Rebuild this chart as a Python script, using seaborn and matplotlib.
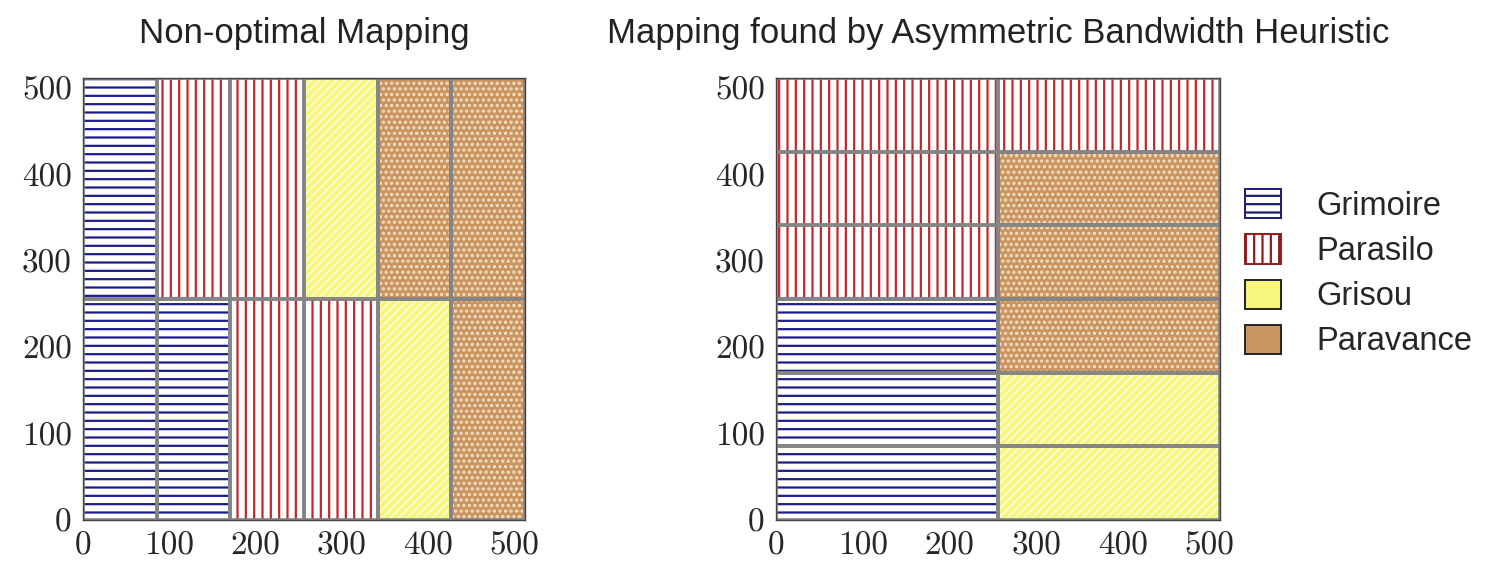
import matplotlib
matplotlib.use("Agg")
import matplotlib.pyplot as plt
import matplotlib.patches as mpatches
import seaborn as sns

sns.set_style("white")
plt.rcParams["hatch.linewidth"] = 1.6

nodes = ["Grimoire", "Parasilo", "Grisou", "Paravance"]
face_colors = ["#ffffff", "#ffffff", "#f6f67c", "#c99460"]
hatch_colors = ["#1c1c8c", "#c0282c", "#fbfbc8", "#f3dfc2"]
hatches = ["--", "||", "////", "..."]

# block grid of a 512 x 512 domain, rows listed bottom to top
non_optimal_rows = [
    ["Grimoire", "Grimoire", "Parasilo", "Parasilo", "Grisou", "Paravance"],
    ["Grimoire", "Parasilo", "Parasilo", "Grisou", "Paravance", "Paravance"],
]
heuristic_rows = [
    ["Grimoire", "Grisou"],
    ["Grimoire", "Grisou"],
    ["Grimoire", "Paravance"],
    ["Parasilo", "Paravance"],
    ["Parasilo", "Paravance"],
    ["Parasilo", "Parasilo"],
]
domain = 512
ticks = [0, 100, 200, 300, 400, 500]


def draw_mapping(ax, rows, title):
    n_rows = len(rows)
    n_cols = len(rows[0])
    w = domain / n_cols
    h = domain / n_rows
    all_x, all_y = [], []
    for i, node in enumerate(nodes):
        xs, ys = [], []
        for r, row in enumerate(rows):
            for c, name in enumerate(row):
                if name == node:
                    xs.append(c * w)
                    ys.append(r * h)
        all_x += xs
        all_y += ys
        if xs:
            ax.bar(xs, h, width=w, bottom=ys, align="edge",
                   color=face_colors[i], edgecolor=hatch_colors[i],
                   hatch=hatches[i], linewidth=0)
    ax.bar(all_x, h, width=w, bottom=all_y, align="edge", fill=False,
           edgecolor="#858585", linewidth=2.6)
    ax.set_xlim(0, domain)
    ax.set_ylim(0, domain)
    ax.set_xticks(ticks)
    ax.set_yticks(ticks)
    for lab in ax.get_xticklabels() + ax.get_yticklabels():
        lab.set_fontfamily("cmr10")
        lab.set_fontsize(24)
    ax.tick_params(direction="in", length=4, color="#555555", pad=8)
    for sp in ax.spines.values():
        sp.set_color("#444444")
        sp.set_linewidth(1.0)
    ax.set_title(title, fontsize=25, family="Liberation Sans", pad=25,
                 color="#222222")


fig = plt.figure(figsize=(14.95, 5.61), dpi=100)
ax1 = fig.add_axes([0.0555, 0.073, 0.2957, 0.788])
ax2 = fig.add_axes([0.519, 0.073, 0.297, 0.788])

draw_mapping(ax1, non_optimal_rows, "Non-optimal Mapping")
draw_mapping(ax2, heuristic_rows, "Mapping found by Asymmetric Bandwidth Heuristic")

handles = [
    mpatches.Patch(facecolor=face_colors[0], edgecolor="#1c1c6c", hatch="--", linewidth=1.4),
    mpatches.Patch(facecolor=face_colors[1], edgecolor="#8c1c1c", hatch="||", linewidth=1.4),
    mpatches.Patch(facecolor=face_colors[2], edgecolor="#222222", linewidth=1.4),
    mpatches.Patch(facecolor=face_colors[3], edgecolor="#222222", linewidth=1.4),
]
ax2.legend(handles, nodes, loc="upper left", bbox_to_anchor=(0.99, 0.815),
           frameon=False, prop={"family": "Liberation Sans", "size": 23.5},
           handlelength=1.1, handleheight=1.0, labelspacing=0.38, handletextpad=1.1)

fig.savefig("out.png", dpi=100)
